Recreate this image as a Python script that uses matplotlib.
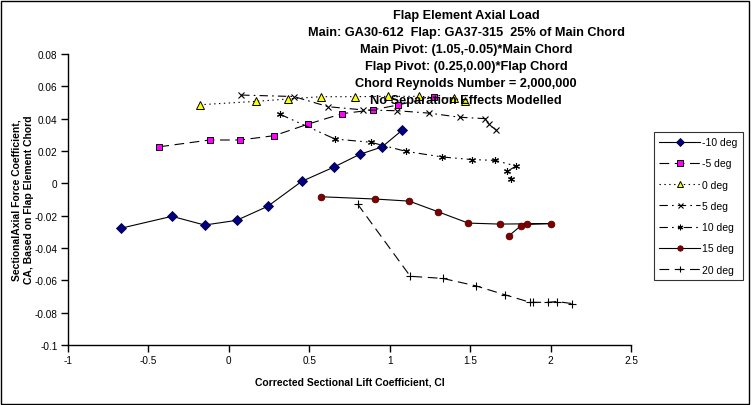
import matplotlib
matplotlib.use("Agg")
import matplotlib.pyplot as plt
from matplotlib.patches import Rectangle

plt.rcParams['font.family'] = ['Liberation Sans', 'DejaVu Sans']
plt.rcParams['lines.scale_dashes'] = False

# ---- data ----
cl_m10 = [-0.672, -0.354, -0.151, 0.048, 0.242, 0.453, 0.654, 0.813, 0.952, 1.079]
ca_m10 = [-0.0278, -0.0204, -0.0258, -0.0229, -0.0142, 0.0012, 0.0101, 0.0179, 0.0225, 0.0330]

cl_m5 = [-0.432, -0.120, 0.071, 0.283, 0.494, 0.705, 0.898, 1.053, 1.276]
ca_m5 = [0.0226, 0.0268, 0.0268, 0.0295, 0.0367, 0.0431, 0.0455, 0.0485, 0.0536]

cl_0 = [-0.182, 0.168, 0.370, 0.571, 0.784, 0.991, 1.183, 1.400, 1.467]
ca_0 = [0.0486, 0.0507, 0.0522, 0.0536, 0.0536, 0.0538, 0.0538, 0.0526, 0.0507]

cl_5 = [0.077, 0.403, 0.618, 0.836, 1.048, 1.247, 1.434, 1.594, 1.617, 1.663]
ca_5 = [0.0546, 0.0537, 0.0474, 0.0454, 0.0449, 0.0434, 0.0409, 0.0400, 0.0364, 0.0329]

cl_10 = [0.321, 0.660, 0.882, 1.100, 1.326, 1.512, 1.653, 1.785, 1.731, 1.756]
ca_10 = [0.0426, 0.0274, 0.0254, 0.0198, 0.0163, 0.0147, 0.0142, 0.0107, 0.0074, 0.0028]

cl_15 = [0.573, 0.908, 1.121, 1.301, 1.488, 1.684, 2.000, 1.851, 1.814, 1.739]
ca_15 = [-0.0083, -0.0097, -0.0110, -0.0176, -0.0246, -0.0252, -0.0249, -0.0252, -0.0264, -0.0326]

cl_20 = [0.800, 1.128, 1.329, 1.535, 1.715, 1.873, 1.893, 1.983, 2.037, 2.136]
ca_20 = [-0.0128, -0.0575, -0.0588, -0.0634, -0.0689, -0.0736, -0.0736, -0.0736, -0.0731, -0.0744]

labels = ['-10 deg', '-5 deg', '0 deg', '5 deg', '10 deg', '15 deg', '20 deg']
xticks = [-1, -0.5, 0, 0.5, 1, 1.5, 2, 2.5]
xticklabels = ['-1', '-0.5', '0', '0.5', '1', '1.5', '2', '2.5']
yticks = [0.08, 0.06, 0.04, 0.02, 0, -0.02, -0.04, -0.06, -0.08, -0.1]
yticklabels = ['0.08', '0.06', '0.04', '0.02', '0', '-0.02', '-0.04', '-0.06', '-0.08', '-0.1']
title_lines = ["Flap Element Axial Load",
               "Main: GA30-612  Flap: GA37-315  25% of Main Chord",
               "Main Pivot: (1.05,-0.05)*Main Chord",
               "Flap Pivot: (0.25,0.00)*Flap Chord",
               "Chord Reynolds Number = 2,000,000",
               "No Separation Effects Modelled"]

W, H = 751, 406
fig = plt.figure(figsize=(W / 100, H / 100), dpi=100)
fig.patches.append(Rectangle((1 / W, 1 / H), (W - 3) / W, (H - 3) / H, transform=fig.transFigure,
                             fill=False, edgecolor='black', linewidth=1.0))

L, R, T, B = 68, 631, 55, 346
ax = fig.add_axes([L / W, (H - B) / H, (R - L) / W, (B - T) / H])

lw = 0.8
ax.plot(cl_m10, ca_m10, color='black', lw=lw, linestyle='-', marker='D', ms=4.8,
        mfc='#000080', mec='#000040', mew=0.6, label=labels[0])
ax.plot(cl_m5, ca_m5, color='black', lw=lw, linestyle=(0, (7, 4)), marker='s', ms=5,
        mfc='#FF00FF', mec='black', mew=0.7, label=labels[1])
ax.plot(cl_0, ca_0, color='black', lw=lw, linestyle=(0, (1, 2.5)), marker='^', ms=5.5,
        mfc='#FFFF00', mec='black', mew=0.7, label=labels[2])
ax.plot(cl_5, ca_5, color='black', lw=lw, linestyle=(0, (6, 3, 1.2, 3)), marker='x', ms=4.5,
        mec='black', mew=0.8, label=labels[3])
ax.plot(cl_10, ca_10, color='black', lw=lw, linestyle=(0, (6, 3, 1.2, 3, 1.2, 3)), marker=(6, 2, 0), ms=5,
        mec='black', mew=0.8, label=labels[4])
ax.plot(cl_15, ca_15, color='black', lw=lw, linestyle='-', marker='o', ms=4.8,
        mfc='#800000', mec='#500000', mew=0.6, label=labels[5])
ax.plot(cl_20, ca_20, color='black', lw=lw, linestyle=(0, (7, 4)), marker='+', ms=6,
        mec='black', mew=0.8, label=labels[6])

ax.set_xlim(-1, 2.5)
ax.set_ylim(-0.1, 0.08)
ax.set_xticks(xticks)
ax.set_xticklabels(xticklabels)
ax.set_yticks(yticks)
ax.set_yticklabels(yticklabels)
for s in ['top', 'right']:
    ax.spines[s].set_visible(False)
for s in ['left', 'bottom']:
    ax.spines[s].set_linewidth(1.0)
ax.tick_params(direction='out', length=5, width=1.0, labelsize=7.2, pad=2.5)

ax.set_xlabel("Corrected Sectional Lift Coefficient, Cl", fontsize=7.5, fontweight='bold', labelpad=8)
fig.text(17 / W, 1 - 200 / H, "SectionalAxial Force Coefficient,", rotation=90, ha='center', va='center',
         fontsize=7.5, fontweight='bold')
fig.text(29 / W, 1 - 200 / H, "CA, Based on Flap Element Chord", rotation=90, ha='center', va='center',
         fontsize=7.5, fontweight='bold')

ys = [16, 33, 50, 67, 84, 101]
for t, yy in zip(title_lines, ys):
    fig.text(466 / W, 1 - yy / H, t, ha='center', va='center', fontsize=9.2, fontweight='bold', zorder=10)

leg = fig.legend(loc='upper left', bbox_to_anchor=(654 / W, 1 - 133 / H), fontsize=7.5,
                 frameon=True, fancybox=False, edgecolor='black', handlelength=3.9,
                 labelspacing=1.08, borderpad=0.5, handletextpad=0.2, borderaxespad=0,
                 markerscale=0.8)
leg.get_frame().set_linewidth(0.8)

fig.savefig('out.png', dpi=100)
